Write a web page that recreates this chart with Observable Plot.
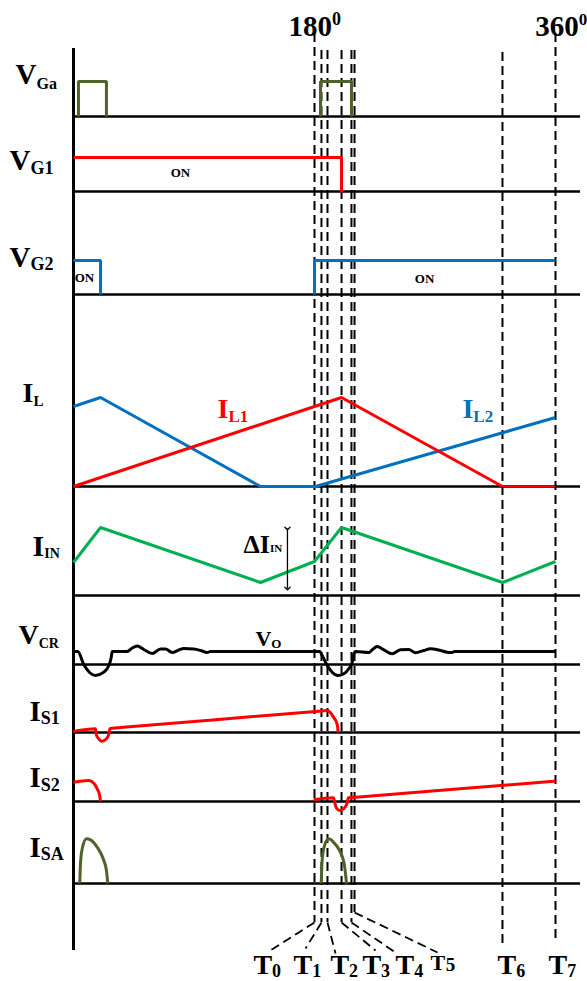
<!DOCTYPE html>
<html><head><meta charset="utf-8">
<script src="https://cdn.jsdelivr.net/npm/d3@7"></script>
<script src="https://cdn.jsdelivr.net/npm/@observablehq/plot@0.6"></script>
<style>html,body{margin:0;padding:0;background:#fff}#chart{width:587px;height:981px}</style>
</head><body><div id="chart"></div>
<script>
// ---------- DATA ----------
// channels and the level of each zero line
const channelNames = ["VGa","VG1","VG2","IL","IIN","VCR","IS1","IS2","ISA"];
const channelBase  = [116, 191, 294, 486, 595, 664, 732, 801, 883];

// switching instants (electrical degrees)
const eventNames  = ["T0","T1","T2","T3","T4","T5","T6","T7"];
const eventAngles = [180, 185.2, 189.7, 200.2, 207.6, 209.9, 320.4, 360];

// waveforms: [angle (deg), amplitude above the channel's zero line]
const vGaPulse1 = [[3.7,0],[3.7,35],[24.6,35],[24.6,0]];
const vGaPulse2 = [[184.5,0],[184.5,35],[207.6,35],[207.6,0]];
const vG1 = [[0,34],[200.2,34],[200.2,-1]];
const vG2a = [[0,34],[20.2,34],[20.2,0]];
const vG2b = [[180,0],[180,34],[360,34]];
const iL1 = [[0,0],[200.2,89],[320.4,0]];
const iL1tail = [[320.4,0],[360,0]];
const iL2 = [[0,80],[20.2,89],[139.7,0],[180.7,0],[360,69]];
const iIN = [[0,33],[20.2,68],[139.7,13],[180,34],[200.2,68],[320.4,13],[360,34]];
const vCR = [[0,13],[3.2,13],[7.7,0],[12,-8],[16.4,-11],[22.6,-7.7],[26.4,-1],[28.2,7.3],[28.9,13],
  [40.1,13],[43.8,16.5],[47.6,18.5],[52.5,15],[58.8,11],[65.0,15.5],[68.7,15.5],[73.7,12],[78.7,14.5],
  [82.4,16],[89.9,15.5],[94.9,14],[99.9,12],[102.3,13],
  [183.9,13],[185.7,9],[189.5,-1],[193.2,-7.7],[197.4,-11],[201.9,-9.3],[205.6,-4.3],[208.2,2.3],[209.4,10.7],[210.6,13],
  [220.6,12],[223.1,14.7],[226.8,18],[231.8,14.7],[238.0,10.7],[244.2,14.7],[250.4,15],[255.4,11.7],
  [261.6,14],[266.6,15.7],[274.1,14],[279.1,12.3],[282.8,12],[284.5,13],[360,13]];
const iS1 = [[0,1],[16.4,3.7],[16.9,-1.3],[18.8,-6.3],[21.3,-8.7],[24.6,-6.3],[26.4,-1.3],[27.1,3.7],[28.9,4.3],
  [35,4.97],[183,21.32],[189.2,22],[191.7,20.3],[194.2,15.3],[196.4,10.3],[197.3,5.3],[197.6,0]];
const iS2a = [[0,19.3],[11.4,21],[15.2,18.3],[17.7,12.7],[19.4,6.7],[20.2,0]];
const iS2b = [[179.3,1.7],[194.2,3.7],[195.0,-0.7],[196.3,-6.3],[198.7,-9],[201.7,-7.3],[204.2,-2.3],[205.4,3.7],
  [211,4.3],[354,19.66],[360,20.3]];
const iSAa = [[4.7,0],[5.2,19.7],[6.5,34.7],[9.7,44.7],[12.7,43.7],[17.7,36.3],[22.2,24.7],[24.6,13],[25.6,0]];
const iSAb = [[185.0,0],[185.7,23],[187.5,38],[190.7,44.7],[194.2,41.3],[198.7,33],[202.2,19.7],[203.9,0]];

// text
const channelLabelMain = ["V","V","V","I","I","V","I","I","I"];
const channelLabelSub  = ["Ga","G1","G2","L","IN","CR","S1","S2","SA"];
const onText = "ON";
const angleLabels = ["180","360"];
const angleSup = "0";

// ---------- LAYOUT ----------
const K = 482 / 360; // px per degree
const C = {olive:"#4f6228", red:"#ff0000", blue:"#0070c0", green:"#00b050"};
const traces = [
  {pts:vGaPulse1, ch:0, color:C.olive}, {pts:vGaPulse2, ch:0, color:C.olive},
  {pts:vG1, ch:1, color:C.red},
  {pts:vG2a, ch:2, color:C.blue}, {pts:vG2b, ch:2, color:C.blue},
  {pts:iL2, ch:3, color:C.blue}, {pts:iL1, ch:3, color:C.red},
  {pts:iIN, ch:4, color:C.green},
  {pts:vCR, ch:5, color:"#000", curve:"monotone-x"},
  {pts:iS1, ch:6, color:C.red, curve:"monotone-x"},
  {pts:iS2a, ch:7, color:C.red, curve:"monotone-x"}, {pts:iS2b, ch:7, color:C.red, curve:"monotone-x"},
  {pts:iSAa, ch:8, color:C.olive, curve:"monotone-x"}, {pts:iSAb, ch:8, color:C.olive, curve:"monotone-x"}
];
const rows = (pts, ch) => pts.map(([a, v]) => ({x: a, y: channelBase[ch] - v}));

const ctx = document.createElement("canvas").getContext("2d");
const tw = (t, s) => { ctx.font = `bold ${s}px "Liberation Serif"`; return ctx.measureText(t).width / K; };

// label placement: [x(deg), baseline, subBaseline, size, subSize]
const chanLabelPos = [
  [-43.3, 83, 88, 29, 16], [-47.8, 169, 173, 29, 18], [-47.8, 266, 269, 29, 18],
  [-38.1, 401, 405, 28, 15], [-30.6, 555, 557, 30, 14], [-41.1, 643, 647, 28, 14],
  [-32.9, 720, 723, 29, 18], [-32.9, 786, 790, 29, 18], [-32.9, 856, 859, 29, 18]
];
const texts = [];
function addLabel(main, sub, x, y, ys, s, ss, color, gap = 0) {
  texts.push({t: main, x, y, s, color});
  if (sub) texts.push({t: sub, x: x + tw(main, s) + gap, y: ys, s: ss, color});
}
channelLabelMain.forEach((m, i) => {
  const [x, y, ys, s, ss] = chanLabelPos[i];
  addLabel(m, channelLabelSub[i], x, y, ys, s, ss, "#000");
});
addLabel("I", "L1", 107.6, 417, 421, 28, 17, C.red);
addLabel("I", "L2", 290.5, 417, 421, 28, 17, C.blue);
addLabel("ΔI", "IN", 127.0, 552, 551, 26, 11, "#000");
addLabel("V", "O", 135.9, 645, 647, 22, 13, "#000");
// event labels
const evLabelX = [134.4, 164.3, 191.9, 215.8, 240.5, 266.6, 316.7, 354.8];
eventNames.forEach((n, i) => {
  if (i === 5) addLabel("T", n.slice(1), evLabelX[i], 969, 970, 22, 19, "#000", 0.5);
  else addLabel("T", n.slice(1), evLabelX[i], 973, 976, 28, 18, "#000");
});
// angle labels
addLabel(angleLabels[0], angleSup, 160.6, 35, 24, 29, 18, "#000");
addLabel(angleLabels[1], angleSup, 344.8, 35, 24, 29, 17, "#000");

const onLabels = [{x: 79.9, y: 172}, {x: 8.2, y: 277}, {x: 262.2, y: 278}];

const evTop = [33, 50, 50, 50, 50, 50, 52, 33];
const evBot = [922, 922, 922, 922, 922, 912, 943, 943];
const events = eventAngles.map((a, i) => ({a, top: evTop[i], bot: evBot[i]}));
const slant = [
  {x1: 180, y1: 922, x2: 147.1, y2: 950}, {x1: 185.2, y1: 922, x2: 173.3, y2: 948},
  {x1: 189.7, y1: 922, x2: 195.7, y2: 953}, {x1: 200.2, y1: 922, x2: 225.6, y2: 950},
  {x1: 207.6, y1: 922, x2: 240.5, y2: 952}, {x1: 209.9, y1: 912, x2: 271.9, y2: 952}
];

const marks = [
  Plot.ruleX(events, {x: "a", y1: "top", y2: "bot", stroke: "#000", strokeWidth: 2, strokeDasharray: "9,5"}),
  Plot.link(slant, {x1: "x1", y1: "y1", x2: "x2", y2: "y2", stroke: "#000", strokeWidth: 1.8, strokeDasharray: "9,5"}),
  Plot.ruleY(channelBase, {y: d => d, x1: 0, x2: 378.7, stroke: "#000", strokeWidth: 2.5}),
  Plot.ruleX([0], {y1: 48, y2: 950, stroke: "#000", strokeWidth: 3}),
  Plot.line(rows(iL1tail, 3), {x: "x", y: "y", stroke: C.red, strokeWidth: 1})
];
traces.forEach(t => marks.push(Plot.line(rows(t.pts, t.ch), {x: "x", y: "y", stroke: t.color, strokeWidth: 3,
  curve: t.curve || "linear", strokeLinejoin: "miter", strokeLinecap: "butt"})));
// ΔI_IN double arrow
marks.push(Plot.link([{x: 159.8, y1: 528, y2: 588}], {x1: "x", x2: "x", y1: "y1", y2: "y2", stroke: "#000", strokeWidth: 1.3,
  markerStart: "arrow", markerEnd: "arrow"}));
marks.push(Plot.text(texts, {x: "x", y: "y", text: "t", fontSize: "s", fill: "color", textAnchor: "start", lineAnchor: "bottom",
  fontFamily: "Liberation Serif", fontWeight: "bold"}));
marks.push(Plot.text(onLabels, {x: "x", y: "y", text: () => onText, fontSize: 13, textAnchor: "middle", lineAnchor: "middle",
  fontFamily: "Liberation Serif", fontWeight: "bold", fill: "#000"}));

const chart = Plot.plot({
  width: 587, height: 981, margin: 0,
  x: {domain: [0, 360], range: [73, 555], axis: null},
  y: {domain: [0, 981], range: [0, 981], axis: null},
  style: {background: "#fff", overflow: "visible"},
  marks
});
document.getElementById("chart").appendChild(chart);
</script>
</body></html>
